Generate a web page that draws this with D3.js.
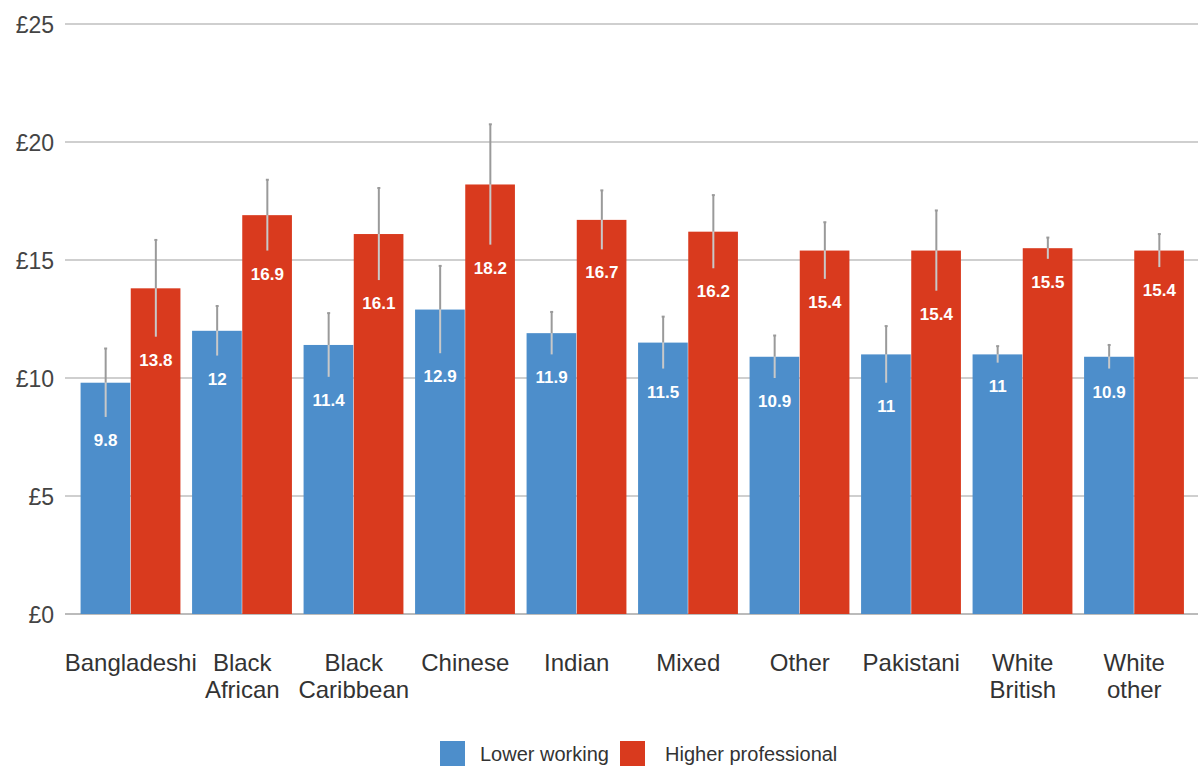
<!DOCTYPE html>
<html><head><meta charset="utf-8">
<script src="https://cdn.jsdelivr.net/npm/d3@7"></script>
<style>body{margin:0;background:#fff;}svg{display:block;font-family:"Liberation Sans",Arial,sans-serif;}</style>
</head><body>
<svg id="c" width="1198" height="767"></svg>
<script>
const categories = ["Bangladeshi","Black African","Black Caribbean","Chinese","Indian","Mixed","Other","Pakistani","White British","White other"];
const catLines = [["Bangladeshi"],["Black","African"],["Black","Caribbean"],["Chinese"],["Indian"],["Mixed"],["Other"],["Pakistani"],["White","British"],["White","other"]];
const seriesNames = ["Lower working","Higher professional"];
const lowerWorking = [9.8,12,11.4,12.9,11.9,11.5,10.9,11,11,10.9];
const higherProfessional = [13.8,16.9,16.1,18.2,16.7,16.2,15.4,15.4,15.5,15.4];
const lowerErr = [1.45,1.05,1.35,1.85,0.9,1.1,0.9,1.2,0.35,0.5];
const higherErr = [2.05,1.5,1.95,2.55,1.25,1.55,1.2,1.7,0.45,0.7];
const yTicks = [0,5,10,15,20,25];
const colors = ["#4d8ecb","#d93a1e"];

const svg = d3.select("#c");
const x = d3.scaleBand().domain(categories).range([75,1190]).paddingInner(0.1).paddingOuter(0.05);
const xs = d3.scaleBand().domain(seriesNames).range([0,x.bandwidth()]);
const y = d3.scaleLinear().domain([0,25]).range([614,24]);

// grid
svg.append("g").selectAll("line").data(yTicks).join("line")
  .attr("x1",65).attr("x2",1198).attr("y1",d=>y(d)).attr("y2",d=>y(d))
  .attr("stroke",d=>d===0?"#bbb":"#cfcfcf").attr("stroke-width",2);
svg.append("g").selectAll("text").data(yTicks).join("text")
  .attr("x",54).attr("y",d=>y(d)+1).attr("dy","0.35em").attr("text-anchor","end")
  .attr("font-size",23).attr("fill","#444").text(d=>"£"+d);

const data = categories.map((c,i)=>({c, vals:[
  {s:seriesNames[0], v:lowerWorking[i], e:lowerErr[i], k:0},
  {s:seriesNames[1], v:higherProfessional[i], e:higherErr[i], k:1}]}));

const g = svg.append("g").selectAll("g").data(data).join("g")
  .attr("transform",d=>`translate(${x(d.c)},0)`);
const b = g.selectAll("g").data(d=>d.vals).join("g");
b.append("rect").attr("x",d=>xs(d.s)).attr("width",xs.bandwidth()-0.5)
  .attr("y",d=>y(d.v)).attr("height",d=>y(0)-y(d.v)).attr("fill",d=>colors[d.k]);
b.append("line").attr("x1",d=>xs(d.s)+xs.bandwidth()/2).attr("x2",d=>xs(d.s)+xs.bandwidth()/2)
  .attr("y1",d=>y(d.v+d.e)).attr("y2",d=>y(d.v)).attr("stroke","#9a9a9a").attr("stroke-width",2);
b.append("line").attr("x1",d=>xs(d.s)+xs.bandwidth()/2).attr("x2",d=>xs(d.s)+xs.bandwidth()/2)
  .attr("y1",d=>y(d.v)).attr("y2",d=>y(d.v-d.e)).attr("stroke","#c8c8c8").attr("stroke-width",2);
b.append("line").attr("x1",d=>xs(d.s)+xs.bandwidth()/2-1.5).attr("x2",d=>xs(d.s)+xs.bandwidth()/2+1.5)
  .attr("y1",d=>y(d.v+d.e)).attr("y2",d=>y(d.v+d.e)).attr("stroke","#9a9a9a").attr("stroke-width",2);
b.append("text").attr("x",d=>xs(d.s)+xs.bandwidth()/2).attr("y",d=>y(d.v-d.e)+23).attr("dy","0.35em")
  .attr("text-anchor","middle").attr("font-size",17).attr("font-weight","bold").attr("fill","#fff")
  .text(d=>d.v);

// category labels
const cl = svg.append("g").selectAll("text").data(categories).join("text")
  .attr("x",d=>x(d)+x.bandwidth()/2).attr("y",671).attr("text-anchor","middle")
  .attr("font-size",24).attr("fill","#333");
cl.selectAll("tspan").data((d,i)=>catLines[i]).join("tspan")
  .attr("x",function(){return this.parentNode.getAttribute("x");})
  .attr("dy",(d,i)=>i===0?0:27).text(d=>d);

// legend
const leg = svg.append("g");
const legX = [440,620];
seriesNames.forEach((s,i)=>{
  leg.append("rect").attr("x",legX[i]).attr("y",741).attr("width",25).attr("height",25).attr("fill",colors[i]);
  leg.append("text").attr("x",legX[i]+(i===0?40:45)).attr("y",754).attr("dy","0.35em")
    .attr("font-size",20).attr("fill","#333").text(s);
});
</script>
</body></html>
